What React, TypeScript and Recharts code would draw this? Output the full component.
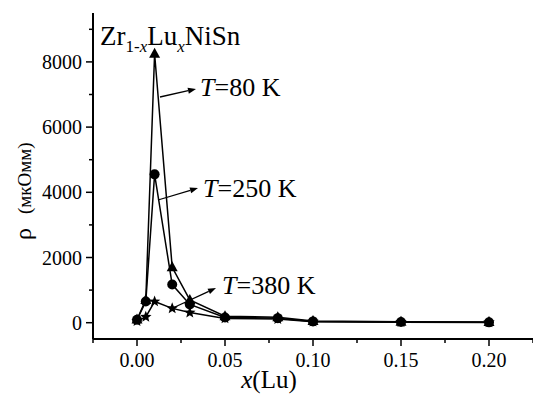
import React from 'react';
import { LineChart, Line, XAxis, YAxis } from 'recharts';

const xLu = [0, 0.005, 0.01, 0.02, 0.03, 0.05, 0.08, 0.1, 0.15, 0.2];
const rho80 = [100, 700, 8250, 1700, 700, 200, 170, 50, 30, 20];
const rho250 = [90, 650, 4550, 1170, 560, 160, 140, 40, 20, 10];
const rho380 = [50, 180, 650, 440, 310, 130, 110, 30, 15, 8];

const xTicks = [-0.025, 0, 0.025, 0.05, 0.075, 0.1, 0.125, 0.15, 0.175, 0.2, 0.225];
const yTicks = [0, 1000, 2000, 3000, 4000, 5000, 6000, 7000, 8000, 9000];

const data = xLu.map((x, i) => ({ x, t80: rho80[i], t250: rho250[i], t380: rho380[i] }));

const serif = { fontFamily: "'Liberation Serif', 'Times New Roman', serif" };

const isMajor = (v: number, step: number) => Math.abs(Math.round(v / step) * step - v) < 1e-9;

const YTick = (props: any) => {
  const { x, y, payload } = props;
  const major = isMajor(payload.value, 2000);
  return (
    <g>
      <line x1={x} x2={x - (major ? 7 : 4)} y1={y} y2={y} stroke="#000" strokeWidth={1.5} />
      {major && (
        <text x={x - 11} y={y} dy={7} textAnchor="end" style={serif} fontSize={20} fill="#000">
          {payload.value}
        </text>
      )}
    </g>
  );
};

const XTick = (props: any) => {
  const { x, y, payload } = props;
  const major = isMajor(payload.value, 0.05) && payload.value > -0.01;
  return (
    <g>
      <line x1={x} x2={x} y1={y} y2={y + (major ? 7 : 4)} stroke="#000" strokeWidth={1.5} />
      {major && (
        <text x={x} y={y + 28} textAnchor="middle" style={serif} fontSize={20} fill="#000">
          {payload.value.toFixed(2)}
        </text>
      )}
    </g>
  );
};

const Triangle = (props: any) => {
  const { cx, cy } = props;
  if (cx == null || cy == null) return null;
  return <polygon points={`${cx},${cy - 6} ${cx - 5.5},${cy + 4} ${cx + 5.5},${cy + 4}`} fill="#000" />;
};

const Circle = (props: any) => {
  const { cx, cy } = props;
  if (cx == null || cy == null) return null;
  return <circle cx={cx} cy={cy} r={5} fill="#000" />;
};

const Star = (props: any) => {
  const { cx, cy } = props;
  if (cx == null || cy == null) return null;
  const pts: string[] = [];
  for (let i = 0; i < 10; i++) {
    const r = i % 2 === 0 ? 6 : 2.6;
    const a = -Math.PI / 2 + (i * Math.PI) / 5;
    pts.push(`${cx + r * Math.cos(a)},${cy + r * Math.sin(a)}`);
  }
  return <polygon points={pts.join(' ')} fill="#000" />;
};

const Arrow = ({ x1, y1, x2, y2 }: { x1: number; y1: number; x2: number; y2: number }) => {
  const a = Math.atan2(y2 - y1, x2 - x1);
  const l = 8, w = 3;
  const bx = x2 - l * Math.cos(a), by = y2 - l * Math.sin(a);
  return (
    <g>
      <line x1={x1} y1={y1} x2={bx} y2={by} stroke="#000" strokeWidth={1.3} />
      <polygon
        points={`${x2},${y2} ${bx + w * Math.sin(a)},${by - w * Math.cos(a)} ${bx - w * Math.sin(a)},${by + w * Math.cos(a)}`}
        fill="#000"
      />
    </g>
  );
};

const TLabel = ({ x, y, text }: { x: number; y: number; text: string }) => (
  <text x={x} y={y} style={serif} fontSize={26} fill="#000">
    <tspan fontStyle="italic">T</tspan>
    <tspan>{text}</tspan>
  </text>
);

export default function App() {
  return (
    <div style={{ position: 'absolute', left: 0, top: 0, width: 533, height: 394, background: '#fff' }}>
      <LineChart width={533} height={394} data={data} margin={{ top: 13, right: 0, bottom: 0, left: 0 }}>
        <XAxis
          dataKey="x"
          type="number"
          domain={[-0.025, 0.225]}
          ticks={xTicks}
          interval={0}
          allowDataOverflow
          height={55}
          axisLine={{ stroke: '#000', strokeWidth: 2 }}
          tickLine={false}
          tickSize={0}
          tickMargin={0}
          tick={<XTick />}
        />
        <YAxis
          type="number"
          domain={[-500, 9500]}
          ticks={yTicks}
          interval={0}
          allowDataOverflow
          width={93}
          axisLine={{ stroke: '#000', strokeWidth: 2 }}
          tickLine={false}
          tickSize={0}
          tickMargin={0}
          tick={<YTick />}
        />
        <Line dataKey="t380" stroke="#000" strokeWidth={1.5} dot={<Star />} isAnimationActive={false} />
        <Line dataKey="t250" stroke="#000" strokeWidth={1.5} dot={<Circle />} isAnimationActive={false} />
        <Line dataKey="t80" stroke="#000" strokeWidth={1.5} dot={<Triangle />} isAnimationActive={false} />

        <text x={100} y={45} style={serif} fontSize={27} fill="#000">
          Zr<tspan fontSize={17} dy={7}>1-</tspan>
          <tspan fontSize={17} fontStyle="italic">x</tspan>
          <tspan dy={-7}>Lu</tspan>
          <tspan fontSize={17} dy={7} fontStyle="italic">x</tspan>
          <tspan dy={-7}>NiSn</tspan>
        </text>

        <Arrow x1={160} y1={97} x2={196} y2={89} />
        <TLabel x={200} y={96} text="=80 K" />
        <Arrow x1={158} y1={200} x2={198} y2={188} />
        <TLabel x={203} y={197} text="=250 K" />
        <Arrow x1={175} y1={307} x2={216} y2={288} />
        <TLabel x={222} y={294} text="=380 K" />

        <text transform="translate(31,240) rotate(-90)" textAnchor="start" style={serif} fill="#000">
          <tspan fontSize={24}>ρ</tspan>
          <tspan fontSize={19} dx={14}>(мкОмм)</tspan>
        </text>
        <text x={269} y={388} textAnchor="middle" style={serif} fontSize={25} fill="#000">
          <tspan fontStyle="italic">x</tspan>(Lu)
        </text>
      </LineChart>
    </div>
  );
}
